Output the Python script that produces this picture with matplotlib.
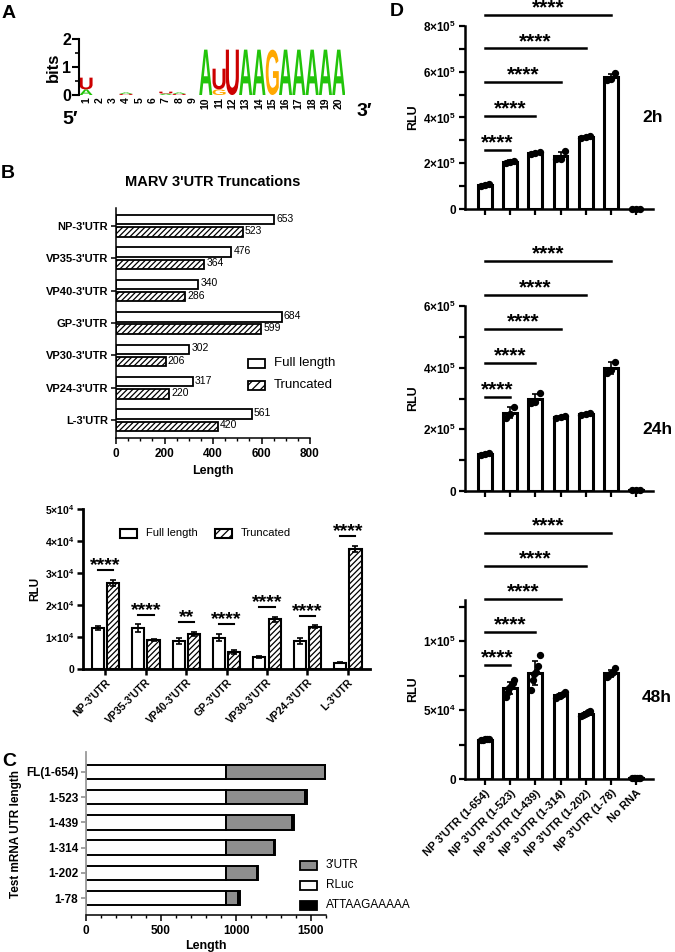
import numpy as np
import matplotlib
matplotlib.use("Agg")
import matplotlib.pyplot as plt
from matplotlib.patches import PathPatch, Rectangle
from matplotlib.textpath import TextPath
from matplotlib.font_manager import FontProperties
from matplotlib.transforms import Affine2D
from matplotlib.ticker import MultipleLocator

plt.rcParams['font.family'] = ['Liberation Sans', 'DejaVu Sans']
plt.rcParams['mathtext.fontset'] = 'custom'
plt.rcParams['mathtext.rm'] = 'Liberation Sans'
plt.rcParams['mathtext.bf'] = 'Liberation Sans:bold'
plt.rcParams['mathtext.default'] = 'bf'
plt.rcParams['hatch.linewidth'] = 0.9

# ---------------- data ----------------
# A: sequence logo, letters stacked bottom -> top (bits)
logo = [
    [('A', 0.20), ('U', 0.42)],           # 1
    [], [],                                # 2, 3
    [('U', 0.04), ('A', 0.05)],           # 4
    [], [],                                # 5, 6
    [('A', 0.05), ('U', 0.07)],           # 7
    [('U', 0.04), ('A', 0.05)],           # 8
    [],                                    # 9
    [('A', 1.62)],                         # 10
    [('G', 0.20), ('U', 0.74)],           # 11
    [('U', 1.62)],                         # 12
    [('A', 1.62)], [('A', 1.62)],          # 13, 14
    [('G', 1.62)],                         # 15
    [('A', 1.62)], [('A', 1.62)], [('A', 1.62)], [('A', 1.62)], [('A', 1.62)],  # 16-20
]
logo_colors = {'A': '#22c40a', 'U': '#cc0000', 'G': '#ffa800', 'C': '#0000cc'}

# B (top): 3'UTR lengths
utr_names = ["NP-3'UTR", "VP35-3'UTR", "VP40-3'UTR", "GP-3'UTR",
             "VP30-3'UTR", "VP24-3'UTR", "L-3'UTR"]
full_len = [653, 476, 340, 684, 302, 317, 561]
trunc_len = [523, 364, 286, 599, 206, 220, 420]

# B (bottom): luciferase activity
rlu_full = [1.28e4, 1.28e4, 0.87e4, 0.98e4, 0.38e4, 0.88e4, 0.20e4]
rlu_full_err = [0.07e4, 0.12e4, 0.10e4, 0.12e4, 0.03e4, 0.09e4, 0.02e4]
rlu_trunc = [2.69e4, 0.90e4, 1.10e4, 0.54e4, 1.55e4, 1.32e4, 3.75e4]
rlu_trunc_err = [0.10e4, 0.03e4, 0.07e4, 0.06e4, 0.08e4, 0.04e4, 0.10e4]
sig_b = ['****', '****', '**', '****', '****', '****', '****']

# C: construct lengths
c_labels = ['FL(1-654)', '1-523', '1-439', '1-314', '1-202', '1-78']
utr_len = [654, 523, 439, 314, 202, 78]
rluc_len = 936
signal_len = 11

# D: NP 3'UTR truncations, replicate RLU values
d_labels = ["NP 3'UTR (1-654)", "NP 3'UTR (1-523)", "NP 3'UTR (1-439)",
            "NP 3'UTR (1-314)", "NP 3'UTR (1-202)", "NP 3'UTR (1-78)", "No RNA"]
rlu_2h = [[1.01e5, 1.05e5, 1.09e5], [2.00e5, 2.07e5, 2.12e5], [2.42e5, 2.45e5, 2.48e5],
          [2.17e5, 2.20e5, 2.53e5], [3.10e5, 3.15e5, 3.19e5], [5.62e5, 5.70e5, 5.93e5],
          [0.01e5, 0.02e5, 0.015e5]]
rlu_24h = [[1.18e5, 1.20e5, 1.22e5], [2.38e5, 2.50e5, 2.74e5], [2.87e5, 2.90e5, 3.18e5],
           [2.38e5, 2.41e5, 2.44e5], [2.48e5, 2.50e5, 2.53e5], [3.82e5, 3.92e5, 4.20e5],
           [0.02e5, 0.02e5, 0.02e5]]
rlu_48h = [[2.80e4, 2.84e4, 2.87e4, 2.90e4, 2.93e4],
           [5.95e4, 6.30e4, 6.60e4, 6.75e4, 6.95e4, 7.20e4],
           [6.50e4, 7.20e4, 7.60e4, 7.80e4, 8.20e4, 9.00e4],
           [5.90e4, 6.00e4, 6.05e4, 6.10e4, 6.20e4, 6.30e4],
           [4.55e4, 4.65e4, 4.72e4, 4.80e4, 4.85e4, 4.95e4],
           [7.40e4, 7.50e4, 7.60e4, 7.70e4, 7.80e4, 8.05e4],
           [0.04e4, 0.05e4, 0.06e4, 0.05e4, 0.04e4, 0.05e4]]

# ---------------- figure ----------------
W, H = 675, 952
fig = plt.figure(figsize=(W / 100, H / 100), dpi=100)


def px_axes(l, t, r, b):
    return fig.add_axes([l / W, 1 - b / H, (r - l) / W, (b - t) / H])


def ftext(x, y, s, **kw):
    fig.text(x / W, 1 - y / H, s, **kw)


def key(x, y, label, fs=8, **kw):
    fig.add_artist(Rectangle((x / W, 1 - (y + 4.5) / H), 17 / W, 9 / H,
                             transform=fig.transFigure, **kw))
    ftext(x + 26, y, label, fontsize=fs, va='center')


def sci(v):
    if v == 0:
        return '0'
    e = int(np.floor(np.log10(v) + 1e-9))
    return '%d×10$^{%d}$' % (round(v / 10 ** e), e)


bold_fp = FontProperties(family='Liberation Sans', weight='bold')


def letter(ax, ch, x, y, w, h, color):
    tp = TextPath((0, 0), ch, size=1, prop=bold_fp)
    bb = tp.get_extents()
    tr = (Affine2D().translate(-bb.x0, -bb.y0)
          .scale(w / bb.width, h / bb.height).translate(x, y))
    ax.add_patch(PathPatch(tr.transform_path(tp), fc=color, ec='none'))


# ---- panel A: logo ----
axA = px_axes(79.4, 39, 345.4, 95)
for i, col in enumerate(logo):
    base = 0
    for ch, h in col:
        letter(axA, ch, i + 1 - 0.49, base, 0.98, h, logo_colors[ch])
        base += h
axA.set_xlim(0.5, 20.5)
axA.set_ylim(0, 2)
for s in ['top', 'right', 'bottom']:
    axA.spines[s].set_visible(False)
axA.spines['left'].set_linewidth(1.5)
axA.set_yticks([0, 1, 2])
axA.yaxis.set_minor_locator(MultipleLocator(0.5))
axA.tick_params(axis='y', which='major', labelsize=11.5, width=1.5, length=5, pad=1)
axA.tick_params(axis='y', which='minor', width=1.2, length=3)
for t in axA.get_yticklabels():
    t.set_fontweight('bold')
axA.set_xticks(range(1, 21))
axA.set_xticklabels([str(i) for i in range(1, 21)], rotation=90, fontsize=7.5,
                    fontweight='bold')
axA.tick_params(axis='x', length=0, pad=1.5)
axA.set_ylabel('bits', fontsize=12, fontweight='bold', labelpad=1)
ftext(70, 119, '5′', fontsize=14, fontweight='bold', ha='center', va='center')
ftext(364, 111, '3′', fontsize=14, fontweight='bold', ha='center', va='center')

# ---- panel B top: lengths ----
axB1 = px_axes(116, 208, 310, 438)
yb = np.arange(len(utr_names))
axB1.barh(yb - 0.19, full_len, height=0.29, color='white', edgecolor='black', lw=1.3)
axB1.barh(yb + 0.19, trunc_len, height=0.29, color='white', edgecolor='black', lw=1.3,
          hatch='//////')
for yi, f, t in zip(yb, full_len, trunc_len):
    axB1.text(f + 8, yi - 0.22, str(f), fontsize=7.5, va='center')
    axB1.text(t + 8, yi + 0.16, str(t), fontsize=7.5, va='center')
axB1.set_xlim(0, 800)
axB1.set_ylim(6.55, -0.55)
axB1.set_yticks(yb)
axB1.set_yticklabels(utr_names, fontsize=8, fontweight='bold')
axB1.set_xticks(range(0, 801, 200))
axB1.xaxis.set_minor_locator(MultipleLocator(50))
for t in axB1.get_xticklabels():
    t.set_fontweight('bold')
axB1.tick_params(axis='x', labelsize=8.5, width=1.1, length=4)
axB1.tick_params(axis='x', which='minor', width=1, length=2.5)
axB1.tick_params(axis='y', width=1.1, length=3.5, pad=2)
for s in ['top', 'right']:
    axB1.spines[s].set_visible(False)
for s in ['left', 'bottom']:
    axB1.spines[s].set_linewidth(1.1)
axB1.set_xlabel('Length', fontsize=9, fontweight='bold', labelpad=3)
axB1.set_title("MARV 3'UTR Truncations", fontsize=10.5, fontweight='bold', pad=16)
key(248, 363, 'Full length', fs=9.5, fc='white', ec='black', lw=1.3)
key(248, 385, 'Truncated', fs=9.5, fc='white', ec='black', lw=1.3, hatch='////')

# ---- panel B bottom: RLU ----
axB2 = px_axes(83, 509, 370, 669)
xb = np.arange(len(utr_names))
axB2.bar(xb - 0.19, rlu_full, width=0.3, color='white', edgecolor='black', lw=1.5,
         yerr=rlu_full_err, error_kw=dict(elinewidth=1.2, capsize=2.5, capthick=1.2))
axB2.bar(xb + 0.19, rlu_trunc, width=0.3, color='white', edgecolor='black', lw=1.5,
         hatch='//////', yerr=rlu_trunc_err,
         error_kw=dict(elinewidth=1.2, capsize=2.5, capthick=1.2))
for xi, a, ae, b, be, s in zip(xb, rlu_full, rlu_full_err, rlu_trunc, rlu_trunc_err, sig_b):
    ly = max(a + ae, b + be) + 0.3e4
    axB2.plot([xi - 0.19, xi + 0.19], [ly, ly], color='black', lw=1.5, clip_on=False)
    axB2.annotate(s, (xi, ly), xytext=(0, 0), textcoords='offset points',
                  ha='center', va='baseline', fontsize=14, fontweight='bold',
                  annotation_clip=False)
axB2.set_xlim(-0.556, 6.55)
axB2.set_ylim(0, 5e4)
axB2.set_yticks(np.arange(0, 5.1e4, 1e4))
axB2.set_yticklabels([sci(v) for v in np.arange(0, 5.1e4, 1e4)], fontsize=7.5,
                     fontweight='bold')
axB2.set_xticks(xb)
axB2.set_xticklabels(utr_names, rotation=45, ha='right', rotation_mode='anchor',
                     fontsize=7.5, fontweight='bold')
axB2.tick_params(axis='both', width=1.8, length=4, pad=2)
for s in ['top', 'right']:
    axB2.spines[s].set_visible(False)
for s in ['left', 'bottom']:
    axB2.spines[s].set_linewidth(2)
axB2.set_ylabel('RLU', fontsize=8.5, fontweight='bold', labelpad=3)
key(120, 533, 'Full length', fs=8, fc='white', ec='black', lw=1.5)
key(215, 533, 'Truncated', fs=8, fc='white', ec='black', lw=1.5, hatch='////')

# ---- panel C: constructs ----
axC = px_axes(86, 752, 326, 915)
yc = np.arange(len(c_labels))
ends = [rluc_len + u for u in utr_len]
axC.barh(yc, rluc_len, height=0.58, color='white', edgecolor='black', lw=1.4)
axC.barh(yc, utr_len, left=rluc_len, height=0.58, color='#8e8e8e', edgecolor='black', lw=1.4)
axC.barh(yc, signal_len, left=ends, height=0.58, color='black', edgecolor='black', lw=1.4)
axC.set_xlim(0, 1600)
axC.set_ylim(5.67, -0.79)
axC.set_yticks(yc)
axC.set_yticklabels(c_labels, fontsize=8.5, fontweight='bold')
axC.set_xticks([0, 500, 1000, 1500])
axC.xaxis.set_minor_locator(MultipleLocator(100))
for t in axC.get_xticklabels():
    t.set_fontweight('bold')
axC.tick_params(axis='x', labelsize=8.5, width=1.1, length=4)
axC.tick_params(axis='x', which='minor', width=1, length=2.5)
axC.tick_params(axis='y', width=1.1, length=3.5, pad=2, color='#888888')
for s in ['top', 'right']:
    axC.spines[s].set_visible(False)
axC.spines['left'].set_color('#9a9a9a')
axC.spines['left'].set_linewidth(1.3)
axC.spines['bottom'].set_linewidth(1.1)
axC.set_xlabel('Length', fontsize=9, fontweight='bold', labelpad=2)
axC.set_ylabel('Test mRNA UTR length', fontsize=8.5, fontweight='bold', labelpad=3)
key(300, 865, "3'UTR", fs=8.5, fc='#8e8e8e', ec='black', lw=1.3)
key(300, 885, 'RLuc', fs=8.5, fc='white', ec='black', lw=1.3)
key(300, 905, 'ATTAAGAAAAA', fs=8.5, fc='black', ec='black', lw=1.3)


# ---- panel D ----
def d_panel(box, reps, ymax, major, minor, sig0, sigstep, tag, tag_y, labels):
    ax = px_axes(*box)
    x = np.arange(len(reps))
    means = [np.mean(r) for r in reps]
    sds = [np.std(r, ddof=1) for r in reps]
    ax.bar(x, means, width=0.55, color='white', edgecolor='black', lw=2.2, zorder=2)
    ax.errorbar(x, means, yerr=sds, fmt='none', ecolor='black', elinewidth=1.2,
                capsize=2.5, capthick=1.2, zorder=3)
    for xi, r in zip(x, reps):
        off = np.linspace(-0.17, 0.17, len(r))
        ax.scatter(xi + off, r, s=18, color='black', zorder=4, clip_on=False)
    for k in range(1, 6):
        ly = sig0 + (k - 1) * sigstep
        ax.plot([0, k], [ly, ly], color='black', lw=1.8, clip_on=False)
        ax.annotate('****', (k / 2, ly), xytext=(0, 1), textcoords='offset points',
                    ha='center', va='baseline', fontsize=15, fontweight='bold',
                    annotation_clip=False)
    ax.set_xlim(-0.79, 6.67)
    ax.set_ylim(0, ymax)
    ticks = np.arange(0, ymax + 1, major)
    ax.set_yticks(ticks)
    ax.set_yticklabels([sci(v) for v in ticks], fontsize=8.5, fontweight='bold')
    ax.yaxis.set_minor_locator(MultipleLocator(minor))
    ax.set_xticks(x)
    if labels:
        ax.set_xticklabels(d_labels, rotation=45, ha='right', rotation_mode='anchor',
                           fontsize=8, fontweight='bold')
    else:
        ax.set_xticklabels([])
    ax.tick_params(axis='both', width=1.6, length=4.5, pad=2)
    ax.tick_params(axis='y', which='minor', width=1.6, length=4.5)
    for s in ['top', 'right']:
        ax.spines[s].set_visible(False)
    for s in ['left', 'bottom']:
        ax.spines[s].set_linewidth(1.8)
    ax.set_ylabel('RLU', fontsize=9, fontweight='bold', labelpad=3)
    ftext(642, tag_y, tag, fontsize=12.5, fontweight='bold', ha='left', va='center')
    return ax


d_panel((465, 26, 653, 209), rlu_2h, 8e5, 2e5, 1e5, 2.58e5, 1.48e5, '2h', 118, False)
d_panel((465, 306, 653, 491), rlu_24h, 6e5, 2e5, 1e5, 3.06e5, 1.10e5, '24h', 430, False)
d_panel((465, 600, 653, 779), rlu_48h, 1.3e5, 5e4, 2.5e4, 8.26e4, 2.4e4, '48h', 697, True)

# panel letters
for ch, (x, y) in {'A': (9, 14), 'B': (8, 174), 'C': (9, 762), 'D': (397, 12)}.items():
    ftext(x, y, ch, fontsize=14, fontweight='bold', ha='center', va='center')

fig.savefig('out.png', dpi=100)
